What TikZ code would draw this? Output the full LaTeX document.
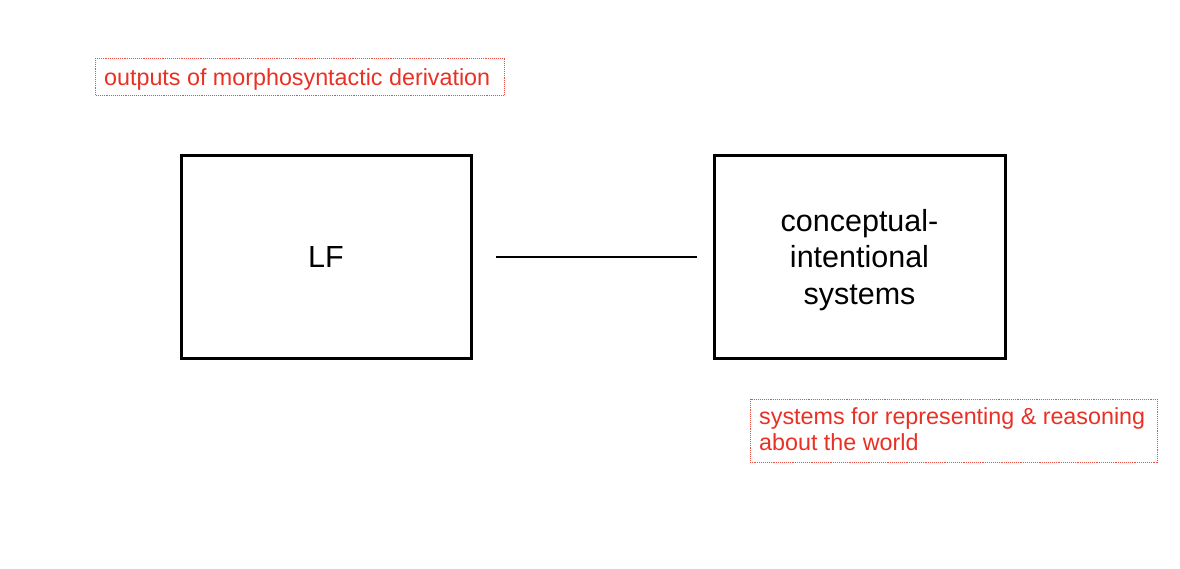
\documentclass[tikz,border=0pt]{standalone}
\usepackage{fontspec}
\setmainfont{Liberation Sans}
\definecolor{labred}{RGB}{232,48,36}
\definecolor{frame}{RGB}{232,80,70}
\begin{document}
\begin{tikzpicture}[x=1pt,y=-1pt,
  sysbox/.style={draw=black,line width=3pt},
  conn/.style={draw=black,line width=2.8pt},
  notebox/.style={draw=frame,densely dotted,line width=0.9pt},
  notetext/.style={text=labred,font=\fontsize{23.3}{26}\selectfont,anchor=base west,inner sep=0pt,align=left},
  boxtext/.style={font=\fontsize{30.5}{36.5}\selectfont,align=center}]
\useasboundingbox (0,0) rectangle (1180,568);
\draw[sysbox] (181,155) rectangle (471,358);
\node[boxtext] (lf) at (326,257) {LF};
\draw[sysbox] (714,155) rectangle (1005,358);
\node[boxtext] (ci) at (859.5,260) {conceptual-\\intentional\\systems};
\coordinate (la) at (496,257);
\coordinate (lb) at (697,257);
\draw[conn] (la) -- (lb);
\draw[notebox] (95,58) rectangle (504,95);
\node[notetext] (n1) at (104,85) {outputs of morphosyntactic derivation};
\draw[notebox] (750,399) rectangle (1157,462);
\node[notetext] (n2) at (759,450) {systems for representing \& reasoning\\about the world};
\end{tikzpicture}
\end{document}
